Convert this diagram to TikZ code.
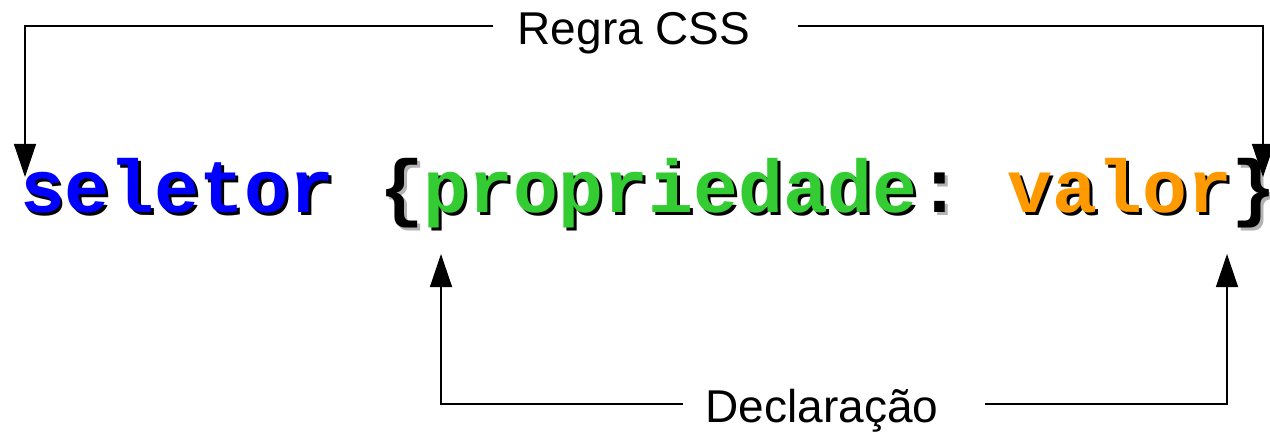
\documentclass[tikz,border=0pt]{standalone}
\usepackage{fontspec}
\setmainfont{Liberation Sans}
\setmonofont{Liberation Mono}
\usetikzlibrary{arrows.meta}
\definecolor{selblue}{HTML}{0000FF}
\definecolor{propgreen}{HTML}{33CC33}
\definecolor{valorange}{HTML}{FF9900}
\definecolor{shadowgray}{HTML}{B3B3B3}
\begin{document}
\begin{tikzpicture}[x=1pt,y=-1pt,
  codetext/.style={anchor=base west,inner sep=0pt,outer sep=0pt,font=\ttfamily\bfseries\fontsize{74.8}{80}\selectfont},
  labeltext/.style={anchor=base,inner sep=0pt,font=\fontsize{46}{50}\selectfont},
  conn/.style={line width=1.4pt,black},
  arr/.style={conn,-{Triangle[width=22pt,length=33pt]}}]
\useasboundingbox (0,0) rectangle (1270,433);
% shadow
\node[codetext] (shadow) at (23,215) {\textcolor{black}{seletor}\textcolor{shadowgray}{\ \{}\textcolor{black}{propriedade}\textcolor{shadowgray}{:}\textcolor{black}{\ valor}\textcolor{shadowgray}{\}}};
% main text
\node[codetext] (code) at (20,212) {\textcolor{selblue}{seletor}\textcolor{black}{\ \{}\textcolor{propgreen}{propriedade}\textcolor{black}{:}\textcolor{valorange}{\ valor}\textcolor{black}{\}}};
% labels
\node[labeltext] (regra) at (634,45) {Regra CSS};
\node[labeltext] (decl) at (822,422) {Declaração};
% coordinates
\coordinate (rl) at (493,26);
\coordinate (rr) at (798,26);
\coordinate (tlc) at (25,26);
\coordinate (trc) at (1263,26);
\coordinate (tlt) at (25,177);
\coordinate (trt) at (1263,177);
\coordinate (dl) at (683,404);
\coordinate (dr) at (985,404);
\coordinate (blc) at (441,404);
\coordinate (brc) at (1227,404);
\coordinate (blt) at (441,254);
\coordinate (brt) at (1227,254);
\draw[arr] (rl) -- (tlc) -- (tlt);
\draw[arr] (rr) -- (trc) -- (trt);
\draw[arr] (dl) -- (blc) -- (blt);
\draw[arr] (dr) -- (brc) -- (brt);
\end{tikzpicture}
\end{document}
